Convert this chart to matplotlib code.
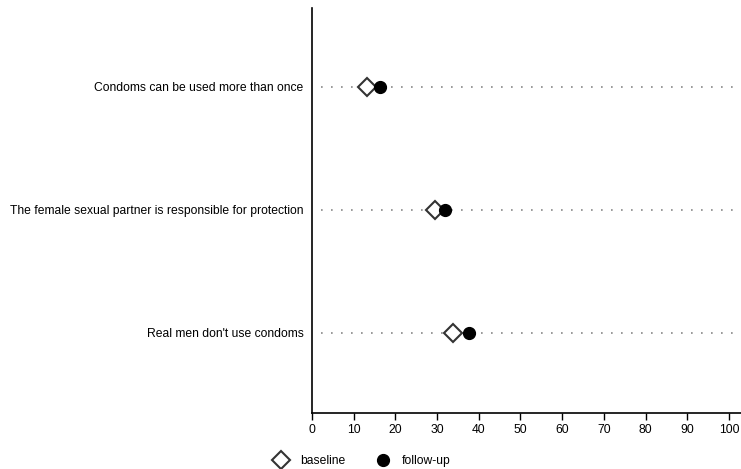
import matplotlib
matplotlib.use("Agg")
import matplotlib.pyplot as plt
from matplotlib.lines import Line2D

plt.rcParams['font.family'] = ['Liberation Sans', 'DejaVu Sans']

categories = ["Condoms can be used more than once",
              "The female sexual partner is responsible for protection",
              "Real men don't use condoms"]
baseline = [13.2, 29.5, 33.8]
followup = [16.3, 31.9, 37.6]
xticks = [0, 10, 20, 30, 40, 50, 60, 70, 80, 90, 100]

fig = plt.figure(figsize=(7.41, 4.69), dpi=100)
ax = fig.add_axes([312/741, 1-413/469, 1-312/741, (413-8)/469])

ypos = [3, 2, 1]
for y in ypos:
    ax.axhline(y, xmin=0.02, xmax=1, color='#888888', linestyle=(0, (1, 5)), linewidth=1.2, zorder=1)

ax.plot(baseline, ypos, linestyle='none', marker='D', markersize=9.5,
        markerfacecolor='white', markeredgecolor='#333333', markeredgewidth=1.5, zorder=3)
ax.plot(followup, ypos, linestyle='none', marker='o', markersize=8.5,
        markerfacecolor='black', markeredgecolor='black', zorder=4)

ax.set_xlim(0, 102.9)
ax.set_ylim(0.35, 3.64)
ax.set_xticks(xticks)
ax.set_xticklabels([str(t) for t in xticks], fontsize=8.7)
ax.set_yticks(ypos)
ax.set_yticklabels(categories, fontsize=8.7)
ax.tick_params(axis='y', length=0, pad=6)
ax.tick_params(axis='x', length=5, width=1, direction='out', pad=3)
for s in ['top', 'right']:
    ax.spines[s].set_visible(False)
for s in ['left', 'bottom']:
    ax.spines[s].set_linewidth(1.2)

handles = [Line2D([], [], linestyle='none', marker='D', markersize=9, markerfacecolor='white',
                  markeredgecolor='#333333', markeredgewidth=1.5),
           Line2D([], [], linestyle='none', marker='o', markersize=8.5, markerfacecolor='black',
                  markeredgecolor='black')]
fig.legend(handles, ['baseline', 'follow-up'], loc='center', bbox_to_anchor=(362/741, 1-461/469),
           ncol=2, frameon=False, fontsize=8.7, handletextpad=1.0, columnspacing=2.5,
           handlelength=1.2)

fig.savefig('out.png', dpi=100)
